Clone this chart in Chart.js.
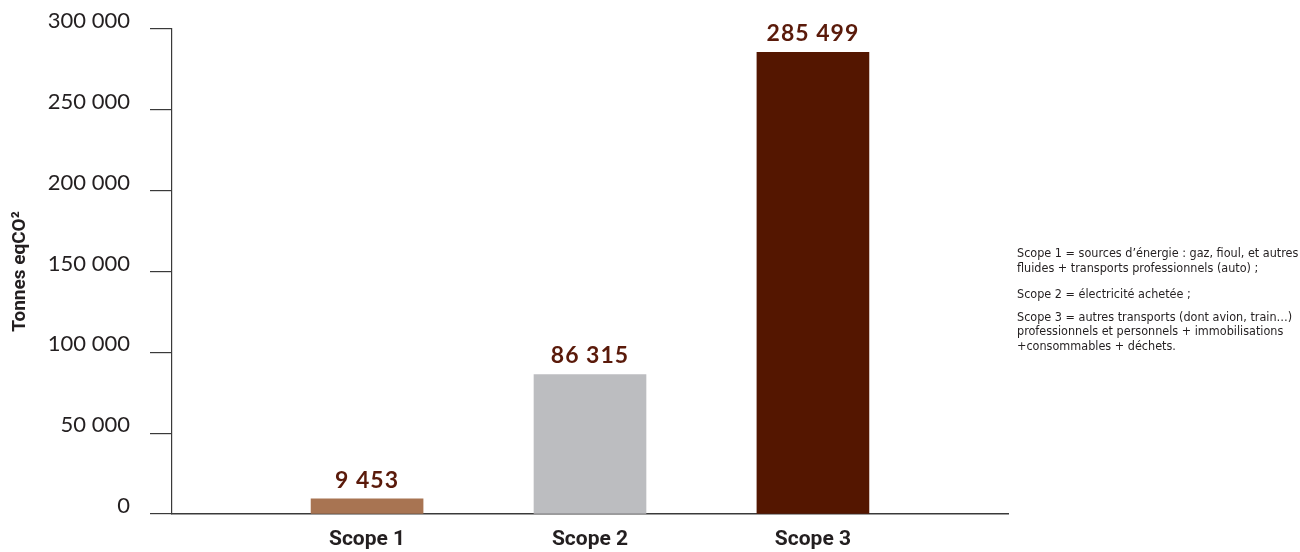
<!DOCTYPE html>
<html>
<head>
<meta charset="utf-8">
<script src="https://cdn.jsdelivr.net/npm/chart.js@4.4.0/dist/chart.umd.min.js"></script>
<style>
  html, body { margin: 0; padding: 0; background: #fff; }
  #wrap { position: relative; width: 1300px; height: 552px; }
  #note {
    position: absolute; left: 1017px; top: 246px; width: 283px;
    font-family: "DejaVu Sans Condensed", "DejaVu Sans", sans-serif;
    font-stretch: condensed;
    font-size: 12.5px; line-height: 14.5px; color: #231f20; white-space: nowrap;
  }
  #note p { margin: 0; }
  #note .p1 { margin-bottom: 12px; }
  #note .p2 { margin-bottom: 8px; }
</style>
</head>
<body>
<div id="wrap">
  <canvas id="myChart" width="1300" height="552"></canvas>
  <div id="note">
    <p class="p1">Scope 1 = sources d’énergie : gaz, fioul, et autres<br>fluides + transports professionnels (auto) ;</p>
    <p class="p2">Scope 2 = électricité achetée ;</p>
    <p>Scope 3 = autres transports (dont avion, train…)<br>professionnels et personnels + immobilisations<br>+consommables + déchets.</p>
  </div>
</div>
<script>
const categories = ['Scope 1', 'Scope 2', 'Scope 3'];
const emissions = [9453, 86315, 285499];
const barColors = ['#a87452', '#bcbdc0', '#541600'];
const yTicks = [0, 50000, 100000, 150000, 200000, 250000, 300000];

const fmt = (n) => String(n).replace(/\B(?=(\d{3})+(?!\d))/g, ' ');

const valueLabels = {
    id: 'value_labels',
    afterDatasetsDraw: (chart) => {
        const ctx = chart.ctx;
        const meta = chart.getDatasetMeta(0);
        ctx.save();
        ctx.font = 'bold 23px Lato, sans-serif';
        ctx.letterSpacing = '1px';
        ctx.fillStyle = '#5a1a0a';
        ctx.textAlign = 'center';
        ctx.textBaseline = 'bottom';
        meta.data.forEach((bar, i) => {
            ctx.fillText(fmt(emissions[i]), bar.x, bar.y - 7);
        });
        ctx.restore();
    }
};

const ctx = document.getElementById('myChart').getContext('2d');

new Chart(ctx, {
    type: 'bar',
    plugins: [valueLabels],
    data: {
        datasets: [{
            data: emissions.map((v, i) => ({ x: i + 1, y: v })),
            backgroundColor: barColors,
            barThickness: 112
        }]
    },
    options: {
        responsive: false,
        animation: false,
        layout: { padding: { top: 29, right: 292, left: 0, bottom: 0 } },
        plugins: { legend: { display: false }, tooltip: { enabled: false } },
        scales: {
            x: {
                type: 'linear',
                offset: false,
                min: 0.125,
                max: 3.875,
                afterBuildTicks: (scale) => { scale.ticks = categories.map((c, i) => ({ value: i + 1 })); },
                afterFit: (scale) => { scale.height = 38; },
                grid: { display: false, drawTicks: false },
                border: { display: true, color: '#3a3a3a', width: 1.5 },
                ticks: {
                    padding: 13,
                    color: '#231f20',
                    font: { family: 'Roboto, "DejaVu Sans", sans-serif', size: 21, weight: 'bold' },
                    callback: (v) => categories[v - 1]
                }
            },
            y: {
                min: 0,
                max: 300000,
                afterBuildTicks: (scale) => { scale.ticks = yTicks.map(v => ({ value: v })); },
                afterFit: (scale) => { scale.width = 172; scale.paddingTop = 0; scale.paddingBottom = 0; },
                grid: { drawOnChartArea: false, drawTicks: true, tickLength: 22, color: '#3a3a3a', lineWidth: 1.2 },
                border: { display: true, color: '#3a3a3a', width: 1.2 },
                title: {
                    display: true,
                    text: 'Tonnes eqCO²',
                    color: '#231f20',
                    padding: { top: 9, bottom: 0 },
                    font: { family: 'Roboto, "DejaVu Sans", sans-serif', size: 19, weight: 'bold' }
                },
                ticks: {
                    padding: 20,
                    labelOffset: -8,
                    color: '#231f20',
                    font: { family: 'Lato, "Open Sans", sans-serif', size: 22, weight: 'normal' },
                    callback: (v) => fmt(v)
                }
            }
        }
    }
});
</script>
</body>
</html>
